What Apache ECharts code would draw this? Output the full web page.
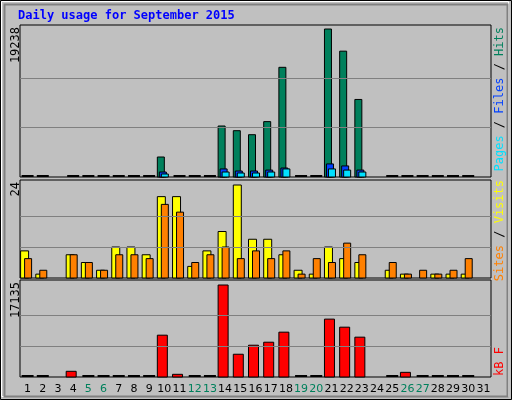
<!DOCTYPE html>
<html>
<head>
<meta charset="utf-8">
<script src="https://cdn.jsdelivr.net/npm/echarts@6/dist/echarts.min.js"></script>
<style>
  html, body { margin: 0; padding: 0; background: #c0c0c0; }
  #chart { width: 512px; height: 400px; }
</style>
</head>
<body>
<div id="chart"></div>
<script>
// data (null = no record for that day, 0 = drawn as a dash)
var days = ['1','2','3','4','5','6','7','8','9','10','11','12','13','14','15','16','17','18','19','20','21','22','23','24','25','26','27','28','29','30','31'];
var weekendDays = ['5','6','12','13','19','20','26','27'];
var hits  = [0,0,null,0,0,0,0,0,0,2600,0,0,0,6630,6020,5500,7200,14260,0,0,19238,16360,10080,null,0,0,0,0,0,0,null];
var files = [0,0,null,0,0,0,0,0,0,650,0,0,0,1050,780,780,900,1170,0,0,1700,1440,900,null,0,0,0,0,0,0,null];
var pages = [0,0,null,0,0,0,0,0,0,390,0,0,0,650,520,520,650,1050,0,0,1050,900,650,null,0,0,0,0,0,0,null];
var visits = [7,1,null,6,4,2,8,8,6,21,21,3,7,12,24,10,10,6,2,1,8,5,4,null,2,1,0,1,1,1,null];
var sites  = [5,2,null,6,4,2,6,6,5,19,17,4,6,8,5,7,5,7,1,5,4,9,6,null,4,1,2,1,2,5,null];
var kbytes = [0,0,null,1060,0,0,0,0,0,7790,500,0,0,17135,4240,5920,6480,8350,0,0,10780,9280,7420,null,0,870,0,0,0,0,null];
var maxLabels = ['19238', '24', '17135'];

var chart = echarts.init(document.getElementById('chart'));
var mono = '"DejaVu Sans Mono", monospace';

// bar drawn with an x offset inside the day slot; zero -> dash
function barSeries(data, grid, color, offset, width, dash) {
  return {
    type: 'custom', xAxisIndex: grid, yAxisIndex: grid,
    data: data.map(function (v, i) { return [i, v]; }),
    renderItem: function (params, api) {
      var v = api.value(1);
      if (v === null || isNaN(v)) return;
      var base = api.coord([api.value(0), 0]);
      var x0 = base[0] - 7 + offset;
      if (v === 0) {
        if (!dash) return;
        return { type: 'rect', shape: { x: base[0] - 6, y: base[1] - 2, width: 12, height: 2 }, style: { fill: '#000' } };
      }
      var top = api.coord([api.value(0), v]);
      return {
        type: 'rect',
        shape: { x: x0, y: top[1], width: width, height: base[1] - top[1] },
        style: { fill: color, stroke: '#000', lineWidth: 1 }
      };
    }
  };
}

function gridLines(grid, max) {
  return {
    type: 'line', xAxisIndex: grid, yAxisIndex: grid, data: [], silent: true,
    markLine: {
      silent: true, symbol: 'none', label: { show: false },
      lineStyle: { color: '#808080', type: 'solid', width: 1 },
      data: [{ yAxis: max / 3 }, { yAxis: max * 2 / 3 }]
    }
  };
}

var grids = [
  { left: 20, right: 21, top: 25, height: 152 },
  { left: 20, right: 21, top: 180, height: 98 },
  { left: 20, right: 21, top: 280, height: 97 }
];
var maxes = [19238, 24, 17135];
var pads = [151 / 147, 98 / 93, 97 / 92];

chart.setOption({
  animation: false,
  backgroundColor: '#c0c0c0',
  grid: grids.map(function (g) {
    return Object.assign({ show: true, backgroundColor: '#c0c0c0', borderColor: '#000', borderWidth: 1 }, g);
  }),
  xAxis: [0, 1, 2].map(function (i) {
    return {
      type: 'category', gridIndex: i, data: days, boundaryGap: true,
      axisLine: { show: false }, axisTick: { show: false },
      axisLabel: {
        show: i === 2, margin: 7, interval: 0, fontFamily: '"DejaVu Sans", sans-serif', fontSize: 11,
        color: function (v) { return weekendDays.indexOf(v) >= 0 ? '#00805c' : '#000'; }
      },
      splitLine: { show: false }
    };
  }),
  yAxis: [0, 1, 2].map(function (i) {
    return {
      type: 'value', gridIndex: i, min: 0, max: maxes[i] * pads[i],
      axisLine: { show: false }, axisTick: { show: false }, axisLabel: { show: false }, splitLine: { show: false }
    };
  }),
  series: [
    gridLines(0, maxes[0]), gridLines(1, maxes[1]), gridLines(2, maxes[2]),
    barSeries(hits, 0, '#00805c', 0, 7, true),
    barSeries(files, 0, '#0040ff', 2, 7, false),
    barSeries(pages, 0, '#00e0ff', 4, 7, false),
    barSeries(visits, 1, '#ffff00', 0, 8, false),
    barSeries(sites, 1, '#ff8000', 4, 7, false),
    barSeries(kbytes, 2, '#ff0000', 0, 10, true)
  ],
  graphic: [
    { type: 'rect', shape: { x: 0.5, y: 0.5, width: 511, height: 399 }, style: { fill: 'none', stroke: '#000', lineWidth: 1 }, silent: true },
    { type: 'rect', shape: { x: 1.5, y: 1.5, width: 507, height: 395 }, style: { fill: 'none', stroke: '#fff', lineWidth: 1 }, silent: true },
    { type: 'rect', shape: { x: 4.5, y: 4.5, width: 503, height: 392 }, style: { fill: 'none', stroke: '#808080', lineWidth: 2 }, silent: true },
    { type: 'text', left: 18, top: 10, style: { text: 'Daily usage for September 2015', fill: '#0000ff', font: 'bold 12px ' + mono } },
    { type: 'text', x: 10, y: 27, rotation: Math.PI / 2, style: { text: maxLabels[0], fill: '#000', font: '12px ' + mono, align: 'right', verticalAlign: 'top' } },
    { type: 'text', x: 10, y: 182, rotation: Math.PI / 2, style: { text: maxLabels[1], fill: '#000', font: '12px ' + mono, align: 'right', verticalAlign: 'top' } },
    { type: 'text', x: 10, y: 282, rotation: Math.PI / 2, style: { text: maxLabels[2], fill: '#000', font: '12px ' + mono, align: 'right', verticalAlign: 'top' } },
    { type: 'text', x: 494, y: 27, rotation: Math.PI / 2, style: {
        text: '{p|Pages} / {f|Files} / {h|Hits}', align: 'right', verticalAlign: 'top', font: '12px ' + mono, fill: '#000',
        rich: { p: { fill: '#00e0ff', font: '12px ' + mono }, f: { fill: '#0040ff', font: '12px ' + mono }, h: { fill: '#00805c', font: '12px ' + mono } } } },
    { type: 'text', x: 494, y: 180, rotation: Math.PI / 2, style: {
        text: '{s|Sites} / {v|Visits}', align: 'right', verticalAlign: 'top', font: '12px ' + mono, fill: '#000',
        rich: { s: { fill: '#ff8000', font: '12px ' + mono }, v: { fill: '#ffff00', font: '12px ' + mono } } } },
    { type: 'text', x: 494, y: 376, rotation: Math.PI / 2, style: { text: 'kB F', fill: '#ff0000', font: '12px ' + mono, align: 'left', verticalAlign: 'top' } }
  ]
});
</script>
</body>
</html>
